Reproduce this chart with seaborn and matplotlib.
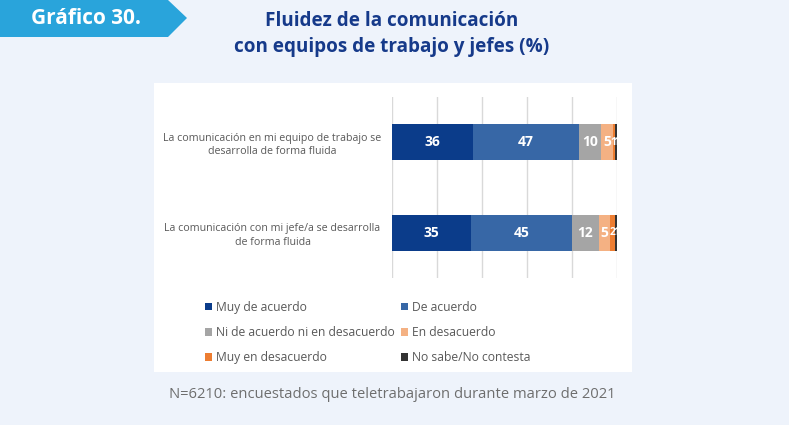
import matplotlib
matplotlib.use("Agg")
import matplotlib.pyplot as plt
import seaborn as sns
import pandas as pd
import numpy as np
from matplotlib.patches import Polygon, Rectangle, Patch

# ---- data ----
categories = [
    "La comunicación en mi equipo de trabajo se\ndesarrolla de forma fluida",
    "La comunicación con mi jefe/a se desarrolla\nde forma fluida",
]
series = ["Muy de acuerdo", "De acuerdo", "Ni de acuerdo ni en desacuerdo",
          "En desacuerdo", "Muy en desacuerdo", "No sabe/No contesta"]
muy_de_acuerdo = [36, 35]
de_acuerdo = [47, 45]
ni_ni = [10, 12]
en_desacuerdo = [5, 5]
muy_en_desacuerdo = [1, 2]
ns_nc = [1, 1]
colors = ["#0B3C8A", "#3767A6", "#A5A5A5", "#F4B183", "#ED7D31", "#333333"]

values = [muy_de_acuerdo, de_acuerdo, ni_ni, en_desacuerdo, muy_en_desacuerdo, ns_nc]

rows = []
for s, vals in zip(series, values):
    for c, v in zip(categories, vals):
        rows.append({"cat": c, "serie": s, "val": v})
df = pd.DataFrame(rows)
df["cum"] = df.groupby("cat")["val"].cumsum()
df["start"] = df["cum"] - df["val"]

BG = "#EEF3FB"
fig = plt.figure(figsize=(7.89, 4.25), dpi=100)
fig.patch.set_facecolor(BG)
W, H = 789, 425

# white panel
fig.add_artist(Rectangle((154 / W, 1 - 372 / H), (632 - 154) / W, (372 - 83) / H,
                         transform=fig.transFigure, facecolor="white", edgecolor="none", zorder=0))

# banner
pts = [(0, 0), (168, 0), (187, 18), (168, 37), (0, 37)]
fig.add_artist(Polygon([(x / W, 1 - y / H) for x, y in pts], closed=True,
                       transform=fig.transFigure, facecolor="#29A4DB", edgecolor="none"))
fig.text(86 / W, 1 - 19 / H, "Gráfico 30.", color="white", fontsize=15, fontweight="bold",
         family="Open Sans", ha="center", va="center")
fig.text(392 / W, 1 - 34 / H, "Fluidez de la comunicación\ncon equipos de trabajo y jefes (%)",
         color="#163A8A", fontsize=13.6, fontweight="bold", family="Open Sans",
         ha="center", va="center", linespacing=1.45)
fig.text(392 / W, 1 - 395 / H, "N=6210: encuestados que teletrabajaron durante marzo de 2021",
         color="#6E6E6E", fontsize=10.6, family="Open Sans", ha="center", va="center")

ax = fig.add_axes([392 / W, 1 - 278 / H, 225 / W, 181 / H])
ax.set_facecolor("none")

# draw stacked bars via cumulative overlaps (largest first)
for s, col in reversed(list(zip(series, colors))):
    sub = df[df["serie"] == s]
    sns.barplot(data=sub, x="cum", y="cat", order=categories, color=col,
                orient="h", width=0.4, ax=ax, saturation=1, zorder=3)

for _, r in df.iterrows():
    yi = categories.index(r["cat"])
    small = r["val"] <= 2
    ax.text(r["start"] + r["val"] / 2, yi, f"{r['val']}", color="white",
            fontsize=7.5 if small else 10, fontweight="bold", family="Open Sans",
            ha="center", va="center", zorder=5)

ax.set_xlim(0, 100)
ax.set_ylim(1.5, -0.5)
ax.set_xticks([0, 20, 40, 60, 80, 100])
ax.grid(axis="x", color="#D9D9D9", linewidth=1, zorder=0)
ax.set_axisbelow(True)
for sp in ax.spines.values():
    sp.set_visible(False)
ax.tick_params(axis="x", length=0, labelbottom=False)
ax.tick_params(axis="y", length=0, pad=86)
ax.set_xlabel("")
ax.set_ylabel("")
ax.set_yticks(range(len(categories)))
ax.set_yticklabels(categories, fontsize=7.7, color="#595959", family="Open Sans",
                   linespacing=1.3)
for lab in ax.get_yticklabels():
    lab.set_horizontalalignment("center")
    lab.set_multialignment("center")
if ax.get_legend():
    ax.get_legend().remove()

# legend, row-wise order in two columns
handles = [Patch(facecolor=c, edgecolor="none") for c in colors]
order = [0, 2, 4, 1, 3, 5]
leg = fig.legend([handles[i] for i in order], [series[i] for i in order], ncol=2,
                 loc="upper left", bbox_to_anchor=(194 / W, 1 - 290 / H), frameon=False,
                 prop={"family": "Open Sans", "size": 8.7}, labelcolor="#595959",
                 handlelength=0.6, handleheight=0.6, handletextpad=0.35,
                 columnspacing=0.45, labelspacing=1.0)

fig.savefig("out.png", dpi=100, facecolor=BG)
